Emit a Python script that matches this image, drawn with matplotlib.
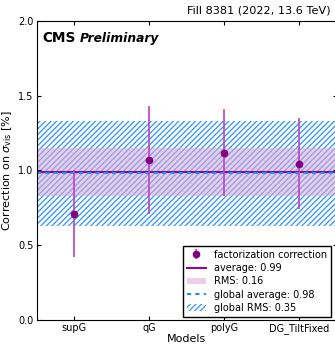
import matplotlib
matplotlib.use("Agg")
import matplotlib.pyplot as plt
import numpy as np

models = ["supG", "qG", "polyG", "DG_TiltFixed"]
values = [0.71, 1.07, 1.12, 1.04]
err_low = [0.29, 0.36, 0.29, 0.30]
err_high = [0.29, 0.36, 0.29, 0.31]
average = 0.99
rms = 0.16
global_average = 0.98
global_rms = 0.35

plt.rcParams['hatch.linewidth'] = 1.0
fig = plt.figure(figsize=(3.35, 3.44), dpi=100)
ax = fig.add_axes([0.110, 0.070, 0.895, 0.869])
x = np.arange(len(models))
xlim = (-0.5, 3.5)

ax.fill_between(xlim, global_average - global_rms, global_average + global_rms,
                facecolor='none', edgecolor='#3d9df5', hatch='//////', linewidth=0,
                label=f'global RMS: {global_rms}')
ax.fill_between(xlim, average - rms, average + rms, color='#d9a7d9', alpha=0.55,
                linewidth=0, label=f'RMS: {rms}')
ax.axhline(average, color='#8b0a8b', lw=1.5, label=f'average: {average}')
ax.axhline(global_average, color='#1e90ff', lw=1.5, ls=(0, (2, 2)),
           label=f'global average: {global_average}')
ax.errorbar(x, values, yerr=[err_low, err_high], fmt='o', color='#800080',
            ecolor='#c040c8', elinewidth=1.2, ms=4.5, capsize=0,
            label='factorization correction')

ax.set_xlim(*xlim)
ax.set_ylim(0, 2.0)
ax.set_xticks(x)
ax.set_xticklabels(models)
ax.set_yticks([0, 0.5, 1.0, 1.5, 2.0])
ax.tick_params(direction='in', labelsize=7, top=True, right=True, length=3, pad=2.5)
ax.set_xlabel('Models', fontsize=8, labelpad=0)
ax.set_ylabel(r'Correction on $\sigma_{\rm vis}$ [%]', fontsize=8, labelpad=3)

t1 = ax.text(0.02, 0.965, 'CMS', transform=ax.transAxes, fontsize=9.8,
             fontweight='bold', va='top', ha='left')
fig.canvas.draw()
bb = t1.get_window_extent().transformed(ax.transAxes.inverted())
ax.text(bb.x1 + 0.012, 0.962, 'Preliminary', transform=ax.transAxes, fontsize=8.8,
        fontweight='bold', fontstyle='italic', va='top', ha='left')
fig.text(0.988, 0.985, 'Fill 8381 (2022, 13.6 TeV)', ha='right', va='top', fontsize=8.1)

h, l = ax.get_legend_handles_labels()
order = ['factorization correction', f'average: {average}', f'RMS: {rms}',
         f'global average: {global_average}', f'global RMS: {global_rms}']
hd = dict(zip(l, h))
leg = ax.legend([hd[o] for o in order], order, loc='lower right', fontsize=7,
                fancybox=False, edgecolor='black', framealpha=1,
                bbox_to_anchor=(0.99, 0.0), borderaxespad=0.3,
                handlelength=2.0, labelspacing=0.35)
leg.get_frame().set_linewidth(1.0)

fig.savefig('out.png', dpi=100)
